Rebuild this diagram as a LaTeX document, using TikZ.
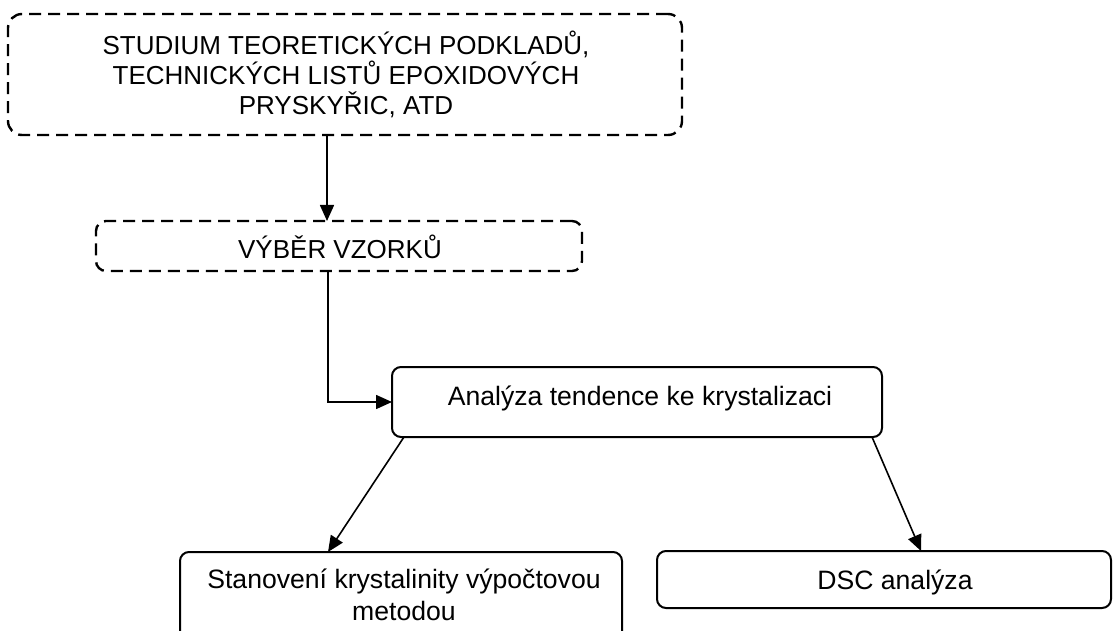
\documentclass[tikz,border=0pt]{standalone}
\usepackage{fontspec}
\usetikzlibrary{arrows.meta}
\newfontfamily\boxfont{Liberation Sans}
\begin{document}
\begin{tikzpicture}[x=1pt,y=-1pt,
  box/.style={draw=black, line width=2pt, rounded corners=9pt, inner sep=0pt, outer sep=0pt},
  dbox/.style={box, dash pattern=on 12pt off 7pt, line width=2.4pt},
  bigtxt/.style={font=\boxfont\fontsize{26}{30}\selectfont, inner sep=0pt, align=center},
  smalltxt/.style={font=\boxfont\fontsize{26.6}{32.5}\selectfont, inner sep=0pt, align=center},
  arr/.style={line width=1.6pt, -{Triangle[length=16pt,width=14pt]}}
]
\useasboundingbox (0,0) rectangle (1113,631);
\clip (0,0) rectangle (1113,631);
% boxes
\node[dbox, rounded corners=14pt, minimum width=674pt, minimum height=121pt] (b1) at (345,74.5) {};
\node[dbox, rounded corners=10pt, minimum width=486pt, minimum height=50pt] (b2) at (339,246) {};
\node[box, minimum width=490pt, minimum height=70pt] (b3) at (637,402) {};
\node[box, minimum width=442pt, minimum height=108pt] (b4) at (401,606) {};
\node[box, minimum width=454pt, minimum height=57pt] (b5) at (884,579.5) {};
% texts
\node[bigtxt, anchor=base] (t1a) at (346,54.3) {STUDIUM TEORETICKÝCH PODKLADŮ,};
\node[bigtxt, anchor=base] (t1b) at (346,84.3) {TECHNICKÝCH LISTŮ EPOXIDOVÝCH};
\node[bigtxt, anchor=base] (t1c) at (346,114.3) {PRYSKYŘIC, ATD};
\node[bigtxt, anchor=base] (t2) at (340,258) {VÝBĚR VZORKŮ};
\node[smalltxt, anchor=base] (t3) at (640,405) {Analýza tendence ke krystalizaci};
\node[smalltxt, anchor=base] (t4a) at (404,588) {Stanovení krystalinity výpočtovou};
\node[smalltxt, anchor=base] (t4b) at (404,620) {metodou};
\node[smalltxt, anchor=base] (t5) at (895,589) {DSC analýza};
% connector x positions
\coordinate (c1) at (327,0);
\coordinate (c2) at (328,0);
\coordinate (c3) at (404,0);
\coordinate (c4) at (328,0);
\coordinate (c5) at (872,0);
\coordinate (c6) at (921,0);
% connectors
\draw[arr] (b1.south -| c1) -- (b2.north -| c1);
\draw[arr] (b2.south -| c2) |- (b3.west);
\draw[arr] (b3.south -| c3) -- (b4.north -| c4);
\draw[arr] (b3.south -| c5) -- (b5.north -| c6);
\end{tikzpicture}
\end{document}
